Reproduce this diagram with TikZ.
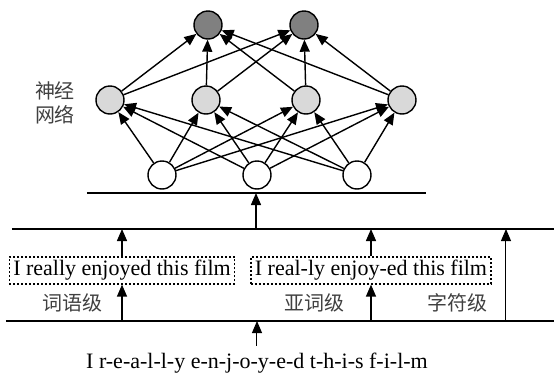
\documentclass[tikz,border=0pt]{standalone}
\usepackage{fontspec}
\setmainfont{Liberation Serif}
\newfontfamily\cjk{Noto Sans CJK SC}
\usetikzlibrary{arrows.meta}

\begin{document}
\begin{tikzpicture}[x=0.5pt, y=-0.5pt,
	neuron/.style={circle, draw, line width=0.7pt, minimum size=14pt, inner sep=0pt},
	conn/.style={-{Triangle[length=6pt, width=5pt]}, line width=0.7pt},
	lvl/.style={font=\cjk\fontsize{10}{12}\selectfont, text=black!75},
	seg/.style={draw, dash pattern=on 1pt off 1pt, line width=0.6pt, inner xsep=2pt, inner ysep=0pt, minimum height=13.5pt, font=\fontsize{11}{13}\selectfont}]

	\useasboundingbox (0,0) rectangle (554,376);

	% output layer
	\node[neuron, fill=black!50] (o1) at (208,25) {};
	\node[neuron, fill=black!50] (o2) at (304,25) {};

	% hidden layer
	\node[neuron, fill=black!15] (h1) at (110,100) {};
	\node[neuron, fill=black!15] (h2) at (206,100) {};
	\node[neuron, fill=black!15] (h3) at (306,100) {};
	\node[neuron, fill=black!15] (h4) at (402,100) {};

	% input layer
	\node[neuron, fill=white] (x1) at (162,175) {};
	\node[neuron, fill=white] (x2) at (257,175) {};
	\node[neuron, fill=white] (x3) at (357,175) {};

	\node[lvl, align=center] (nn) at (55,103) {神经\\网络};

	\foreach \i in {1,2,3}
		\foreach \j in {1,...,4}
			\draw[conn] (x\i) -- (h\j);
	\foreach \j in {1,...,4}
		\foreach \k in {1,2}
			\draw[conn] (h\j) -- (o\k);

	% horizontal lines
	\coordinate (bL) at (87,193);
	\coordinate (bR) at (426,193);
	\coordinate (mL) at (12,229);
	\coordinate (mR) at (554,229);
	\coordinate (lL) at (6,321);
	\coordinate (lR) at (554,321);

	\draw[line width=0.75pt] (bL) -- (bR);
	\draw[line width=0.75pt] (mL) -- (mR);
	\draw[line width=0.75pt] (lL) -- (lR);

	\coordinate (up) at (256,229);
	\draw[conn] (up) -- (up |- bL);

	% segmentations
	\node[seg] (w) at (122,270.5) {I really enjoyed this film};
	\node[seg] (s) at (371,270.5) {I real-ly enjoy-ed this film};
	\node[font=\fontsize{11}{13}\selectfont] (ch) at (257,363) {I r-e-a-l-l-y e-n-j-o-y-e-d t-h-i-s f-i-l-m};

	\draw[conn] (w.north) -- (w.north |- mL);
	\draw[conn] (s.north) -- (s.north |- mL);
	\draw[conn] (w.south |- lL) -- (w.south);
	\draw[conn] (s.south |- lL) -- (s.south);

	\coordinate (cr) at (506,321);
	\draw[conn, line width=0.5pt] (cr) -- (cr |- mL);
	\draw[conn, line width=0.5pt] (ch.north) -- (ch.north |- lL);

	\node[lvl] (l1) at (73,303) {词语级};
	\node[lvl] (l2) at (315,303) {亚词级};
	\node[lvl] (l3) at (458,303) {字符级};

\end{tikzpicture}
\end{document}
